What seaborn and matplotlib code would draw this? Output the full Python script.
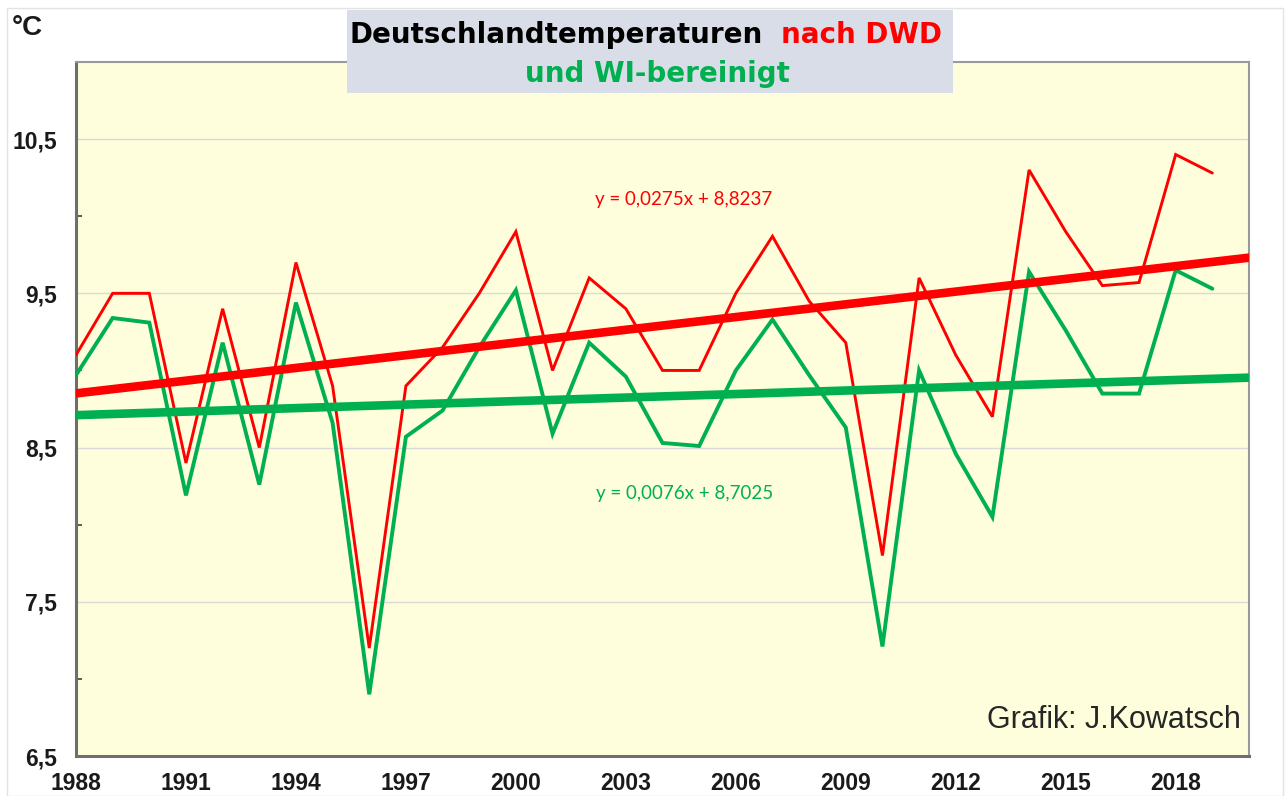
import numpy as np
import pandas as pd
import seaborn as sns
import matplotlib.pyplot as plt
from matplotlib.patches import Rectangle
from matplotlib.ticker import FixedLocator, FuncFormatter

# Jahresmittel Deutschland
years = list(range(1988, 2020))
dwd = [9.1, 9.5, 9.5, 8.4, 9.4, 8.5, 9.7, 8.9, 7.2, 8.9,
       9.15, 9.5, 9.9, 9.0, 9.6, 9.4, 9.0, 9.0, 9.5, 9.87,
       9.45, 9.18, 7.8, 9.6, 9.1, 8.7, 10.3, 9.9, 9.55, 9.57,
       10.4, 10.28]
wi = [8.97, 9.34, 9.31, 8.19, 9.18, 8.26, 9.44, 8.66, 6.9, 8.57,
      8.74, 9.15, 9.52, 8.59, 9.18, 8.96, 8.53, 8.51, 9.0, 9.33,
      8.97, 8.63, 7.21, 9.0, 8.46, 8.05, 9.64, 9.26, 8.85, 8.85,
      9.65, 9.53]

# Trendgeraden (Excel: x = 1, 2, 3 ...)
slope_dwd, icpt_dwd = 0.0275, 8.8237
slope_wi, icpt_wi = 0.0076, 8.7025

x_ticks = list(range(1988, 2019, 3))
y_ticks = [6.5, 7.5, 8.5, 9.5, 10.5]
y_minor = [7.0, 8.0, 9.0, 10.0]

RED = '#FF0000'
GREEN = '#00B050'

df = pd.DataFrame({'Jahr': years, 'DWD': dwd, 'WI': wi})
trend_years = np.arange(1988, 2021)
idx = trend_years - 1987
trend = pd.DataFrame({'Jahr': trend_years,
                      'DWD': slope_dwd * idx + icpt_dwd,
                      'WI': slope_wi * idx + icpt_wi})

sns.set_style('white')
plt.rcParams['font.family'] = ['Liberation Sans', 'DejaVu Sans']

W, H = 1286, 796
fig = plt.figure(figsize=(W / 100, H / 100), dpi=100)
fig.patches.append(Rectangle((7 / W, 0), 1276 / W, 1 - 8 / H, transform=fig.transFigure,
                             fill=False, edgecolor='#E3E3E3', lw=1, zorder=0))

ax = fig.add_axes([76 / W, 1 - 756 / H, 1173 / W, 694 / H])
ax.set_facecolor('#FEFEDC')

sns.lineplot(data=df, x='Jahr', y='DWD', color=RED, lw=2.1, ax=ax, zorder=3)
sns.lineplot(data=df, x='Jahr', y='WI', color=GREEN, lw=2.8, ax=ax, zorder=3)
sns.lineplot(data=trend, x='Jahr', y='DWD', color=RED, lw=6.2, ax=ax, zorder=4)
sns.lineplot(data=trend, x='Jahr', y='WI', color=GREEN, lw=6.2, ax=ax, zorder=4)
for ln in ax.lines:
    ln.set_solid_joinstyle('miter')

ax.set_xlim(1988, 2020)
ax.set_ylim(6.5, 11.0)
ax.set_xlabel('')
ax.set_ylabel('')

ax.xaxis.set_major_locator(FixedLocator(x_ticks))
ax.yaxis.set_major_locator(FixedLocator(y_ticks))
ax.yaxis.set_minor_locator(FixedLocator(y_minor))
ax.yaxis.set_major_formatter(FuncFormatter(lambda v, p: f'{v:.1f}'.replace('.', ',')))

ax.grid(False)
ax.yaxis.grid(True, which='major', color='#DADADA', lw=1)
ax.set_axisbelow(True)

ax.tick_params(axis='both', which='major', direction='inout', length=11, width=1.3,
               color='#404040', labelsize=16.5, labelcolor='#1A1A1A')
ax.tick_params(axis='y', which='major', pad=8)
ax.tick_params(axis='x', which='major', pad=6)
ax.tick_params(axis='y', which='minor', direction='in', length=4, width=1.2, color='#404040', left=True)
for lab in ax.get_xticklabels() + ax.get_yticklabels():
    lab.set_fontweight('bold')

for side in ['left', 'bottom']:
    ax.spines[side].set_color('#6E6E6E')
    ax.spines[side].set_linewidth(2.2)
for side in ['top', 'right']:
    ax.spines[side].set_color('#9A9A9A')
    ax.spines[side].set_linewidth(1.5)
    ax.spines[side].set_visible(True)

# Trendgleichungen
fig.text(684 / W, 1 - 200 / H, 'y = 0,0275x + 8,8237', color=RED, fontsize=13.5,
         family=['Lato', 'DejaVu Sans'], ha='center', va='center')
fig.text(685 / W, 1 - 493 / H, 'y = 0,0076x + 8,7025', color=GREEN, fontsize=13.5,
         family=['Lato', 'DejaVu Sans'], ha='center', va='center')

# Titelkasten
fig.patches.append(Rectangle((347 / W, 1 - 93 / H), 606 / W, 83 / H, transform=fig.transFigure,
                             facecolor='#D9DDE7', edgecolor='none', zorder=5))
fig.text(349 / W, 1 - 43 / H, 'Deutschlandtemperaturen', color='black', fontsize=20,
         fontweight='bold', family=['DejaVu Sans'], va='baseline', zorder=6)
fig.text(781 / W, 1 - 43 / H, 'nach DWD', color=RED, fontsize=20,
         fontweight='bold', family=['DejaVu Sans'], va='baseline', zorder=6)
fig.text(657 / W, 1 - 82 / H, 'und WI-bereinigt', color=GREEN, fontsize=20,
         fontweight='bold', family=['DejaVu Sans'], ha='center', va='baseline', zorder=6)

fig.text(12 / W, 1 - 35 / H, '°C', fontsize=20, fontweight='bold', color='#1A1A1A', va='baseline')
fig.text(1241 / W, 1 - 728 / H, 'Grafik: J.Kowatsch', fontsize=22, color='#262626',
         ha='right', va='baseline', zorder=6)

fig.savefig('out.png', dpi=100, facecolor='white')
